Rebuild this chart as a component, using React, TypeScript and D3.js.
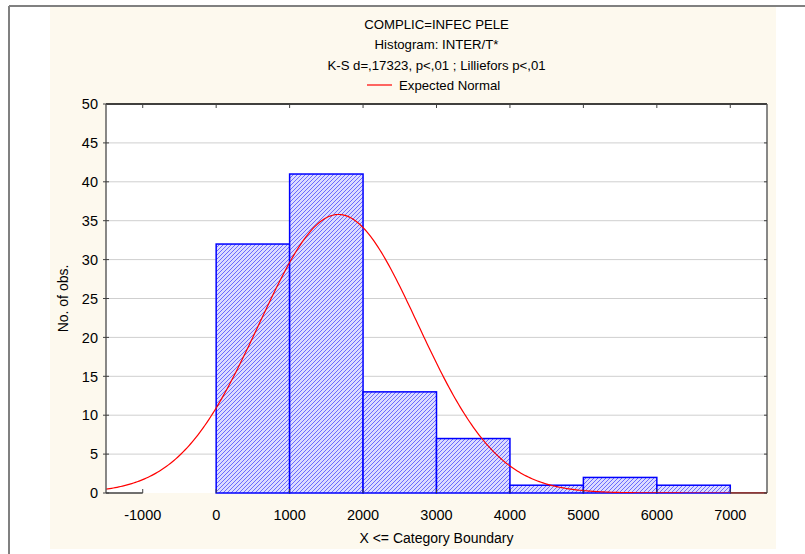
import React from 'react';
import * as d3 from 'd3';

// histogram bins (upper boundary) and observed counts
const binStarts = [-1000, 0, 1000, 2000, 3000, 4000, 5000, 6000];
const counts = [0, 32, 41, 13, 7, 1, 2, 1];
const binWidth = 1000;

const xTicks = [-1000, 0, 1000, 2000, 3000, 4000, 5000, 6000, 7000];
const yTicks = [0, 5, 10, 15, 20, 25, 30, 35, 40, 45, 50];

const titleLines = ['COMPLIC=INFEC PELE', 'Histogram: INTER/T*', 'K-S d=,17323, p<,01 ; Lilliefors p<,01'];

// fitted normal
const normalMean = 1665;
const normalSd = 1081;

const W = 805, H = 554;
const plot = { left: 106, top: 104, right: 767, bottom: 493 };
const font = '"Liberation Sans", Arial, sans-serif';

// pixels of the hatch tile that are blue
const hatchPx = [[0, 3], [1, 2], [2, 1], [3, 0]];

const App = () => {
  const x = d3.scaleLinear().domain([-1500, 7500]).range([plot.left, plot.right]);
  const y = d3.scaleLinear().domain([0, 50]).range([plot.bottom, plot.top]);

  const n = d3.sum(counts);
  const curvePts = d3.range(-1500, 7501, 25).map((v) => {
    const z = (v - normalMean) / normalSd;
    return [v, (n * binWidth) / (normalSd * Math.sqrt(2 * Math.PI)) * Math.exp(-0.5 * z * z)];
  });
  const curve = d3.line()
    .x((d) => x(d[0]))
    .y((d) => y(d[1]))(curvePts as [number, number][]);

  const cx = (plot.left + plot.right) / 2;

  return (
    <svg width={W} height={H} style={{ position: 'absolute', left: 0, top: 0, display: 'block' }}
      fontFamily={font}>
      <defs>
        <pattern id="hatch" width="4" height="4" patternUnits="userSpaceOnUse">
          <rect width="4" height="4" fill="#dcdcff" />
          {hatchPx.map(([px, py]) => (
            <rect key={px + '-' + py} x={px} y={py} width={1} height={1} fill="#6b6bff" shapeRendering="crispEdges" />
          ))}
        </pattern>
        <clipPath id="plotClip">
          <rect x={plot.left} y={plot.top} width={plot.right - plot.left} height={plot.bottom - plot.top} />
        </clipPath>
      </defs>
      <rect x={0} y={0} width={W} height={H} fill="#ffffff" />
      <rect x={50} y={7} width={726} height={542} fill="#fdf9ee" />
      <line x1={9} y1={6} x2={W} y2={6} stroke="#808080" strokeWidth={2} />
      <line x1={9} y1={6} x2={9} y2={H} stroke="#808080" strokeWidth={2} />

      <rect x={plot.left} y={plot.top} width={plot.right - plot.left} height={plot.bottom - plot.top} fill="#ffffff" />

      {yTicks.slice(1, -1).map((t) => (
        <line key={'g' + t} x1={plot.left} x2={plot.right} y1={y(t)} y2={y(t)} stroke="#cfcfcf" strokeWidth={1} />
      ))}

      {binStarts.map((b, i) => (
        <rect key={'b' + b}
          x={x(b)} y={y(counts[i])}
          width={x(b + binWidth) - x(b)} height={y(0) - y(counts[i])}
          fill="url(#hatch)" stroke="#0000ff" strokeWidth={1.5} />
      ))}

      <path d={curve || ''} fill="none" stroke="#ff0000" strokeWidth={1.2} clipPath="url(#plotClip)" />

      {/* frame */}
      <line x1={plot.left} x2={plot.right} y1={plot.top} y2={plot.top} stroke="#000000" strokeWidth={1.5} />
      <line x1={plot.left} x2={plot.left} y1={plot.top} y2={plot.bottom} stroke="#606060" strokeWidth={1.5} />
      <line x1={plot.right} x2={plot.right} y1={plot.top} y2={plot.bottom} stroke="#606060" strokeWidth={1.5} />
      <line x1={plot.left} x2={x(-1000)} y1={plot.bottom} y2={plot.bottom} stroke="#404040" strokeWidth={1.5} />
      <line x1={x(7000)} x2={plot.right} y1={plot.bottom} y2={plot.bottom} stroke="#6a2020" strokeWidth={1.5} />

      {yTicks.map((t) => (
        <g key={'y' + t}>
          <line x1={plot.left - 3} x2={plot.left + 3} y1={y(t)} y2={y(t)} stroke="#404040" />
          <line x1={plot.right - 3} x2={plot.right} y1={y(t)} y2={y(t)} stroke="#404040" />
          <text x={98} y={y(t)} dy="0.36em" textAnchor="end" fontSize={14.5} fill="#000">{t}</text>
        </g>
      ))}
      {xTicks.map((t) => (
        <g key={'x' + t}>
          <line x1={x(t)} x2={x(t)} y1={plot.bottom} y2={plot.bottom - 4} stroke="#404040" />
          <line x1={x(t)} x2={x(t)} y1={plot.top} y2={plot.top + 4} stroke="#404040" />
          <text x={x(t)} y={520} textAnchor="middle" fontSize={14.5} fill="#000">{t}</text>
        </g>
      ))}

      {titleLines.map((s, i) => (
        <text key={s} x={cx} y={28.5 + i * 20.5} textAnchor="middle" fontSize={13.2} fill="#000">{s}</text>
      ))}
      <line x1={367} x2={392} y1={85} y2={85} stroke="#ff0000" strokeWidth={1.2} />
      <text x={399} y={90} fontSize={13.2} fill="#000">Expected Normal</text>

      <text x={cx} y={543} textAnchor="middle" fontSize={14} fill="#000">X &lt;= Category Boundary</text>
      <text transform={`translate(68,${(plot.top + plot.bottom) / 2}) rotate(-90)`} textAnchor="middle" fontSize={14} fill="#000">No. of obs.</text>
    </svg>
  );
};

export default App;
